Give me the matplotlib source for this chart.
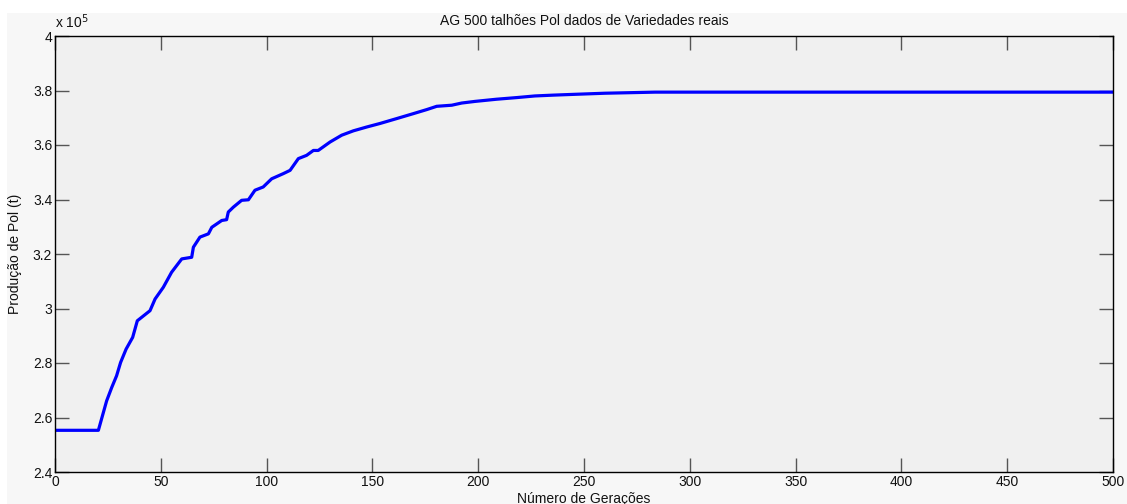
import numpy as np
import matplotlib
matplotlib.use('Agg')
import matplotlib.pyplot as plt
from matplotlib.patches import Rectangle
from matplotlib.ticker import FuncFormatter

plt.rcParams['font.family'] = ['Liberation Sans', 'DejaVu Sans']

# geracoes e producao de pol (t)
geracoes = [0, 20.5, 24.4, 26.8, 29.1, 31.0, 33.6, 36.7, 38.9, 44.9, 47.3, 51.2, 55.1,
            59.9, 64.6, 65.4, 68.5, 72.5, 74.1, 78.8, 81.1, 81.9, 84.3, 88.2, 91.4,
            94.5, 98.4, 102.4, 107.9, 111.1, 115.0, 118.9, 122.1, 124.4, 130.0, 135.5,
            141.0, 147.3, 153.6, 161.5, 169.3, 175.7, 180.4, 187.5, 192.2, 198.5, 208.7,
            218.2, 226.8, 235.5, 245.7, 259.9, 283.6, 500]
producao = [2.553, 2.553, 2.661, 2.710, 2.753, 2.802, 2.851, 2.894, 2.955, 2.992, 3.035,
            3.078, 3.133, 3.182, 3.188, 3.225, 3.262, 3.274, 3.298, 3.323, 3.326, 3.354,
            3.372, 3.397, 3.399, 3.434, 3.446, 3.476, 3.495, 3.507, 3.550, 3.562, 3.580,
            3.580, 3.611, 3.636, 3.652, 3.666, 3.679, 3.697, 3.715, 3.730, 3.742, 3.746,
            3.754, 3.760, 3.768, 3.774, 3.780, 3.783, 3.786, 3.790, 3.794, 3.794]
producao = np.array(producao) * 1e5

xticks = [0, 50, 100, 150, 200, 250, 300, 350, 400, 450, 500]
yticks = [2.4e5, 2.6e5, 2.8e5, 3.0e5, 3.2e5, 3.4e5, 3.6e5, 3.8e5, 4.0e5]

W, H = 1127, 504
fig = plt.figure(figsize=(W / 100, H / 100), dpi=100, facecolor='white')
fig.add_artist(Rectangle((7 / W, 0), 1 - 7 / W, 1 - 13 / H, transform=fig.transFigure,
                         facecolor='#f7f7f7', edgecolor='none', zorder=-10))

ax = fig.add_axes([55 / W, 1 - 472 / H, (1113 - 55) / W, (472 - 36) / H])
ax.set_facecolor('#f0f0f0')
ax.plot(geracoes, producao, color='#0000ff', lw=2.3)

ax.set_xlim(0, 500)
ax.set_ylim(2.4e5, 4.0e5)
ax.set_xticks(xticks)
ax.set_yticks(yticks)
ax.yaxis.set_major_formatter(FuncFormatter(lambda v, p: '%g' % round(v / 1e5, 1)))
ax.tick_params(direction='in', length=10, width=1, color='#555555', labelsize=10,
               labelcolor='#111111', top=True, right=True, pad=2)
for s in ax.spines.values():
    s.set_color('black')
    s.set_linewidth(1)

ax.text(0.0, 1.012, r'x 10$^5$', transform=ax.transAxes, fontsize=10, color='#111111',
        ha='left', va='bottom')
ax.set_title('AG 500 talhões Pol dados de Variedades reais', fontsize=10, color='#111111', pad=8)
ax.set_xlabel('Número de Gerações', fontsize=10, color='#111111', labelpad=2)
ax.set_ylabel('Produção de Pol (t)', fontsize=10, color='#111111', labelpad=8)

fig.savefig('out.png', dpi=100, facecolor='white')
